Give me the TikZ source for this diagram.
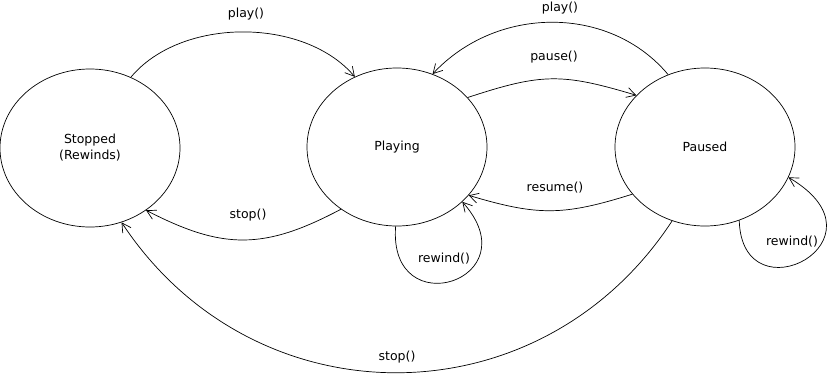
\documentclass[tikz,border=0pt]{standalone}
\usepackage{fontspec}
\setmainfont{DejaVu Sans}
\usetikzlibrary{shapes.geometric,arrows.meta}
\begin{document}
\begin{tikzpicture}[x=1pt,y=-1pt,
  state/.style={draw,ellipse,line width=0.7pt,inner sep=0pt,
    minimum width=180pt,minimum height=158pt,align=center,
    font=\fontsize{12.5}{16}\selectfont},
  trans/.style={line width=0.7pt,-{Straight Barb[length=9pt,width=10pt]}},
  lbl/.style={inner sep=0pt,font=\fontsize{12.5}{15}\selectfont}]
\useasboundingbox (0,0) rectangle (828,375);

% states
\node[state] (stopped) at (90,148) {Stopped\\(Rewinds)};
\node[state] (playing) at (397,147) {Playing};
\node[state] (paused)  at (705,147) {Paused};

% transitions
\draw[trans] (stopped.60) .. controls (181,17) and (304,17) .. (playing.121);
\draw[trans] (paused.117) .. controls (610,5) and (497,5) .. (playing.64);
\draw[trans] (playing.35.5) .. controls (542,73) and (562,73) .. (paused.143.7);
\draw[trans] (paused.213.7) .. controls (563,216) and (538,216) .. (playing.-34.6);
\draw[trans] (playing.228.4) .. controls (264,250) and (223,250) .. (stopped.-48.4);
\draw[trans] (paused.246.3) .. controls (540,423) and (254,423) .. (stopped.-67);
\draw[trans] (playing.-91) .. controls (388,326) and (532,280) .. (playing.-40);
\draw[trans] (paused.-65) .. controls (742,320) and (895,240) .. (paused.-20);

% transition labels
\node[lbl] (lplay)    at (246,14)  {play()};
\node[lbl] (lplayb)   at (560,8)   {play()};
\node[lbl] (lpause)   at (554,57)  {pause()};
\node[lbl] (lresume)  at (555,188) {resume()};
\node[lbl] (lstop)    at (248,215) {stop()};
\node[lbl] (lstopb)   at (397,357) {stop()};
\node[lbl] (lrewind)  at (444,259) {rewind()};
\node[lbl] (lrewindb) at (792,242) {rewind()};
\end{tikzpicture}
\end{document}
